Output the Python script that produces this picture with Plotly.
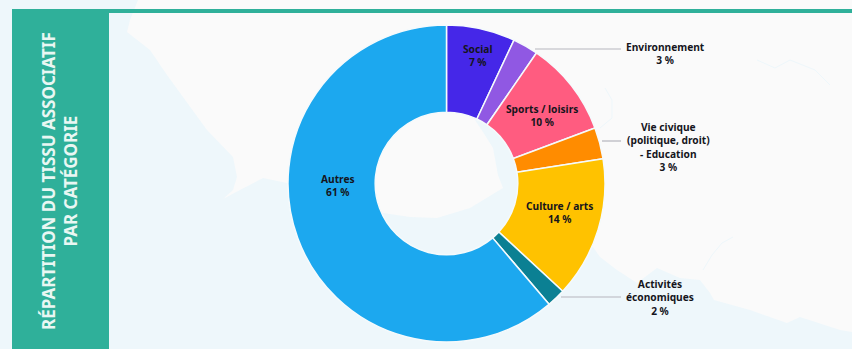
import plotly.graph_objects as go

categories = ["Social", "Environnement", "Sports / loisirs", "Vie civique (politique, droit) - Education",
              "Culture / arts", "Activités économiques", "Autres"]
values = [7.0, 2.6, 9.7, 3.2, 14.4, 1.9, 61.2]
colors = ["#4527e8", "#9058e3", "#ff5c80", "#ff8c00", "#ffc200", "#0b8093", "#1ca8ef"]
label_lines = [
    (["Social", "7 %"], 477, 55.5),
    (["Environnement", "3 %"], 665, 53.5),
    (["Sports / loisirs", "10 %"], 542, 115.5),
    (["Vie civique", "(politique, droit)", "- Education", "3 %"], 668, 147),
    (["Culture / arts", "14 %"], 559, 212.5),
    (["Activités", "économiques", "2 %"], 660, 297),
    (["Autres", "61 %"], 338, 185),
]
W, H = 852, 349
SEA, LAND, TEAL = "#eef7fb", "#fafafa", "#2fb09a"

def px(x): return x / W
def py(y): return 1 - y / H

fig = go.Figure(go.Pie(
    labels=categories, values=values, sort=False, direction="clockwise", rotation=0, hole=0.45,
    marker=dict(colors=colors, line=dict(color="#f5fafc", width=1.5)),
    textinfo="none", hoverinfo="label+percent", showlegend=False,
    domain=dict(x=[px(288), px(605)], y=[py(342), py(25)]),
))

def path(points, close=True):
    return "M " + " L ".join(f"{x},{y}" for x, y in points) + (" Z" if close else "")

land = [(138, 0), (130, 20), (127, 32), (150, 50), (167, 75), (207, 130), (233, 157), (237, 177), (233, 190),
        (223, 199), (240, 190), (263, 178), (287, 183), (340, 200), (383, 213), (410, 217), (437, 218),
        (470, 208), (503, 188), (498, 175), (493, 148), (483, 132), (475, 120), (520, 130), (530, 190),
        (560, 225), (593, 247), (600, 257), (617, 270), (637, 283), (657, 268), (680, 278), (700, 280),
        (710, 293), (714, 300), (750, 310), (787, 323), (800, 317), (840, 330), (852, 332), (852, 0)]
rivers = [
    [(733, 237), (722, 243), (712, 255), (703, 270)],
    [(600, 128), (612, 118), (612, 100), (605, 88)],
    [(757, 60), (775, 68), (790, 60), (815, 70), (830, 85)],
]
shapes = [
    dict(type="path", path=path(land), xref="x", yref="y", fillcolor=LAND, line=dict(width=0), layer="below"),
]
for r in rivers:
    shapes.append(dict(type="path", path=path(r, False), xref="x", yref="y",
                       line=dict(color=SEA, width=1), layer="below"))
shapes += [
    dict(type="rect", x0=12, x1=109, y0=9, y1=349, xref="x", yref="y", fillcolor=TEAL, line=dict(width=0), layer="below"),
    dict(type="rect", x0=12, x1=852, y0=9, y1=13, xref="x", yref="y", fillcolor=TEAL, line=dict(width=0), layer="below"),
    dict(type="line", x0=535, x1=621, y0=49, y1=49, xref="x", yref="y", line=dict(color="#b5b5bd", width=1.2)),
    dict(type="line", x0=602, x1=621, y0=141, y1=141, xref="x", yref="y", line=dict(color="#b5b5bd", width=1.2)),
    dict(type="line", x0=561, x1=621, y0=297, y1=297, xref="x", yref="y", line=dict(color="#b5b5bd", width=1.2)),
]
annotations = []
for lines, x, yc in label_lines:
    annotations.append(dict(text="<br>".join(lines), x=x, y=yc, xref="x", yref="y",
                            showarrow=False, align="center",
                            font=dict(family="Noto Sans", size=10.2, color="#15151c", weight=700)))
annotations.append(dict(text="RÉPARTITION DU TISSU ASSOCIATIF<br>PAR CATÉGORIE", x=59.5, y=181.5, xref="x", yref="y",
                        textangle=-90, showarrow=False, align="center",
                        font=dict(family="Noto Sans", size=17, color="#e9f7f3", weight=700)))
fig.update_layout(
    width=W, height=H, margin=dict(l=0, r=0, t=0, b=0), paper_bgcolor=SEA, plot_bgcolor=SEA,
    xaxis=dict(range=[0, W], visible=False, fixedrange=True),
    yaxis=dict(range=[H, 0], visible=False, fixedrange=True),
    shapes=shapes, annotations=annotations,
)
fig.write_html("out.html", config=dict(displayModeBar=False),
               post_script="document.body.style.margin='0';document.body.style.overflow='hidden';")
